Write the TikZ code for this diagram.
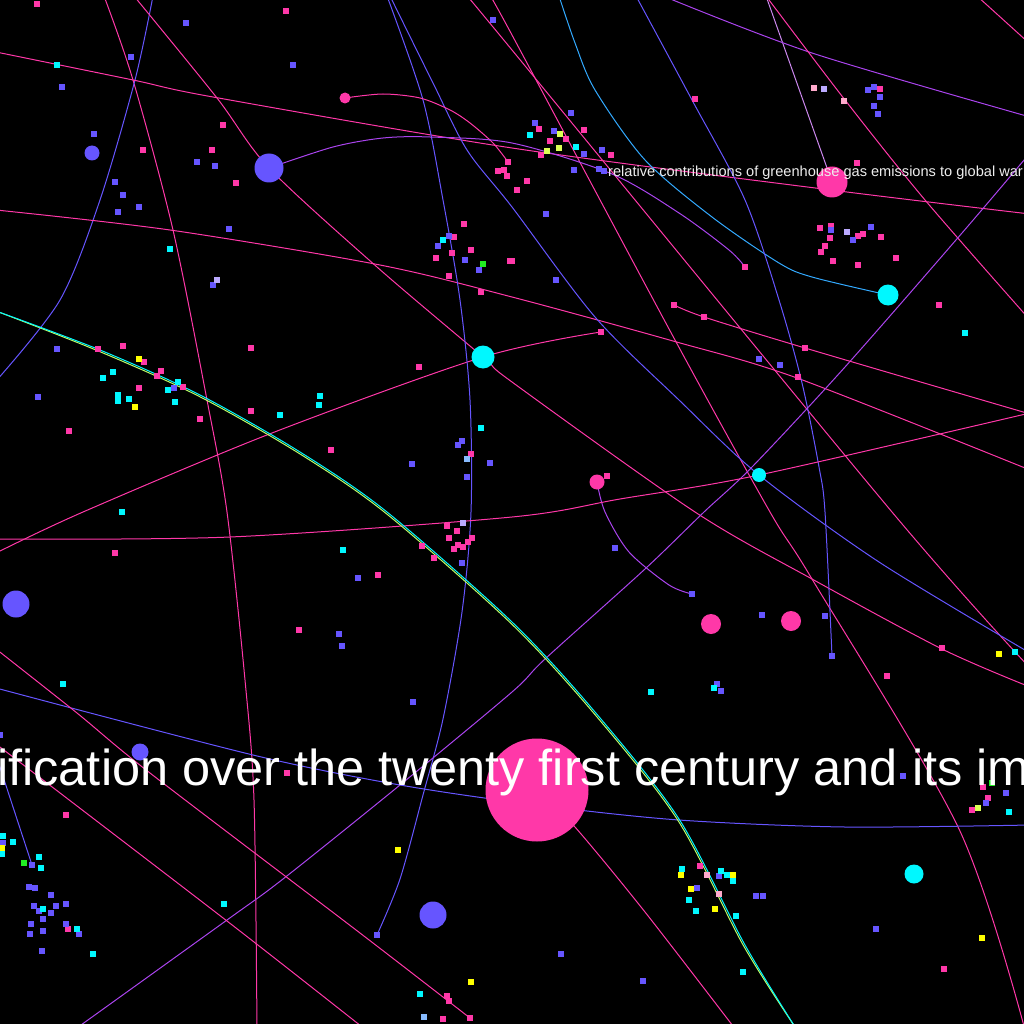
\documentclass[tikz,border=0pt]{standalone}
\usepackage{fontspec}
\setmainfont{Liberation Sans}
\definecolor{hotPink}{HTML}{FF38A8}
\definecolor{bluePurple}{HTML}{6655FF}
\definecolor{aqua}{HTML}{00F8FF}
\definecolor{lemon}{HTML}{FFFF00}
\definecolor{lime}{HTML}{22EE22}
\definecolor{violetLine}{HTML}{AA44EE}
\definecolor{lilacLine}{HTML}{CC88EE}
\definecolor{skyLine}{HTML}{33AAFF}
\definecolor{blush}{HTML}{FFAACC}
\definecolor{lavender}{HTML}{BBAAFF}
\definecolor{paleBlue}{HTML}{88BBFF}
\definecolor{limeYellow}{HTML}{DDFF55}
\definecolor{greenLine}{HTML}{BBFF66}
\definecolor{labelGrey}{HTML}{EEEEEE}
\pgfdeclarelayer{links}
\pgfsetlayers{links,main}
\tikzstyle{hubNode} = [circle, inner sep=0pt]
\tikzstyle{sqNode} = [rectangle, inner sep=0pt, minimum size=5.5pt]
\tikzstyle{pinkLink} = [draw=hotPink, line width=1pt]
\tikzstyle{blueLink} = [draw=bluePurple, line width=1pt]
\tikzstyle{violetLink} = [draw=violetLine, line width=1pt]
\tikzstyle{skyLink} = [draw=skyLine, line width=1pt]
\tikzstyle{lilacLink} = [draw=lilacLine, line width=1pt]
\tikzstyle{bigText} = [text=white, inner sep=0pt, font=\fontsize{50.5}{61}\selectfont]
\tikzstyle{smallText} = [text=labelGrey, inner sep=0pt, font=\fontsize{14.6}{17}\selectfont]

\begin{document}
\begin{tikzpicture}[x=1pt, y=-1pt]
    \useasboundingbox (0,0) rectangle (1024,1024);
    \begin{pgfonlayer}{links}
        \fill[black] (0,0) rectangle (1024,1024);
    \end{pgfonlayer}

    % hubs
    \node (blueDot) [hubNode, fill=bluePurple, minimum size=15pt] at (92,153) {};
    \node (blueHub) [hubNode, fill=bluePurple, minimum size=29pt] at (269,168) {};
    \node (pinkSmall) [hubNode, fill=hotPink, minimum size=11pt] at (345,98) {};
    \node (cyanHub) [hubNode, fill=aqua, minimum size=23pt] at (483,357) {};
    \node (pinkGas) [hubNode, fill=hotPink, minimum size=31pt] at (832,182) {};
    \node (cyanRight) [hubNode, fill=aqua, minimum size=21pt] at (888,295) {};
    \node (cyanMid) [hubNode, fill=aqua, minimum size=14pt] at (759,475) {};
    \node (pinkMid) [hubNode, fill=hotPink, minimum size=15pt] at (597,482) {};
    \node (blueLeft) [hubNode, fill=bluePurple, minimum size=27pt] at (16,604) {};
    \node (blueText) [hubNode, fill=bluePurple, minimum size=17pt] at (140,752) {};
    \node (blueLow) [hubNode, fill=bluePurple, minimum size=27pt] at (433,915) {};
    \node (pinkBig) [hubNode, fill=hotPink, minimum size=103pt] at (537,790) {};
    \node (pinkPairA) [hubNode, fill=hotPink, minimum size=20pt] at (711,624) {};
    \node (pinkPairB) [hubNode, fill=hotPink, minimum size=20pt] at (791,621) {};
    \node (cyanLow) [hubNode, fill=aqua, minimum size=19pt] at (914,874) {};

    % line ends
    \node (endPinkCurve) [sqNode, fill=hotPink] at (508,162) {};
    \node (endViolet) [sqNode, fill=hotPink] at (745,267) {};
    \node (endHubLine) [sqNode, fill=hotPink] at (601,332) {};
    \node (startPinkRay) [sqNode, fill=hotPink] at (674,305) {};
    \node (endPinkO) [sqNode, fill=hotPink] at (470,1018) {};
    \node (endBlueG) [sqNode, fill=bluePurple] at (377,935) {};
    \node (endBlueI) [sqNode, fill=bluePurple] at (832,656) {};
    \node (endVioletM) [sqNode, fill=bluePurple] at (692,594) {};
    \node (endBlueR) [sqNode, fill=bluePurple] at (32,865) {};

    % scattered squares
    \foreach \x/\y [count=\i] in {37/4,286/11,223/125,212/150,236/183,143/150,464/224,454/237,471/250,436/258,452/253,449/276,481/292,510/261,498/171,504/170,507/176,251/348,123/346,98/349,144/362,161/371,157/376,139/388,183/387,200/419,69/431,251/411,331/450,419/367,471/454,695/99,880/89,857/163,539/129,584/130,550/141,566/139,541/155,611/155,527/181,517/190,512/261,820/228,831/226,830/238,825/246,821/252,858/236,863/234,881/237,896/258,833/261,858/265,939/305,704/317,805/348,798/377,607/476,115/553,299/630,378/575,422/546,434/558,447/526,457/531,449/538,458/545,454/549,463/547,468/542,472/538,287/773,66/815,68/929,447/996,449/1001,443/1019,942/648,887/676,983/787,988/798,972/810,700/866,944/969}
        \node (pinkSq\i) [sqNode, fill=hotPink] at (\x,\y) {};
    \foreach \x/\y [count=\i] in {186/23,131/57,293/65,62/87,94/134,197/162,215/166,115/182,123/195,118/212,139/207,229/229,213/285,493/20,449/236,438/246,465/260,479/270,57/349,174/388,38/397,412/464,462/441,458/445,490/463,467/477,868/90,874/87,880/97,874/106,878/114,571/113,535/123,554/131,584/154,602/150,574/170,599/169,604/171,546/214,556/280,831/230,853/240,871/227,759/359,780/365,462/563,358/578,339/634,342/646,413/702,0/735,3/843,29/887,35/888,51/895,34/906,39/911,56/906,66/904,51/913,43/919,31/924,66/924,30/934,43/931,79/934,42/951,615/548,762/615,825/616,717/684,721/691,903/776,1006/793,986/803,697/888,719/876,756/896,763/896,876/929,561/954,643/981}
        \node (blueSq\i) [sqNode, fill=bluePurple] at (\x,\y) {};
    \foreach \x/\y [count=\i] in {57/65,170/249,443/240,113/372,103/378,178/382,168/390,118/395,118/401,129/399,175/402,320/396,319/405,280/415,481/428,122/512,530/135,576/147,965/333,343/550,63/684,3/836,13/842,2/854,39/857,41/868,43/909,77/929,93/954,224/904,420/994,1015/652,651/692,714/688,1009/812,682/869,721/871,727/875,733/881,689/900,696/911,736/916,743/972}
        \node (cyanSq\i) [sqNode, fill=aqua] at (\x,\y) {};
    \foreach \x/\y [count=\i] in {139/359,135/407,2/848,398/850,471/982,999/654,681/875,691/889,733/875,715/909,982/938}
        \node (yellowSq\i) [sqNode, fill=lemon] at (\x,\y) {};
    \foreach \x/\y [count=\i] in {560/134,559/148,547/151,978/808}
        \node (limeSq\i) [sqNode, fill=limeYellow] at (\x,\y) {};
    \foreach \x/\y [count=\i] in {483/264,24/863,992/783}
        \node (greenSq\i) [sqNode, fill=lime] at (\x,\y) {};
    \foreach \x/\y [count=\i] in {814/88,844/101,707/875,719/894}
        \node (blushSq\i) [sqNode, fill=blush] at (\x,\y) {};
    \foreach \x/\y [count=\i] in {217/280,824/89,847/232,463/523}
        \node (lavSq\i) [sqNode, fill=lavender] at (\x,\y) {};
    \foreach \x/\y [count=\i] in {467/459,424/1017}
        \node (paleSq\i) [sqNode, fill=paleBlue] at (\x,\y) {};

    % free ends
    \coordinate (aTop) at (104,-4);   \coordinate (aBot) at (257,1030);
    \coordinate (bTop) at (153,-4);   \coordinate (bLeft) at (-4,381);
    \coordinate (cLeft) at (-4,52);   \coordinate (cRight) at (1030,214);
    \coordinate (dLeft) at (-4,210);  \coordinate (dRight) at (1030,470);
    \coordinate (eTop) at (134,-4);   \coordinate (eRight) at (1030,687);
    \coordinate (fLeft) at (-4,553);
    \coordinate (gTop) at (467,-4);   \coordinate (gRight) at (1030,668);
    \coordinate (hTop) at (490,-4);   \coordinate (hBot) at (1025,1030);
    \coordinate (iTop) at (387,-4);
    \coordinate (jTop) at (390,-4);   \coordinate (jRight) at (1030,653);
    \coordinate (kTop) at (559,-4);
    \coordinate (lTop) at (636,-4);
    \coordinate (mTop) at (766,-4);
    \coordinate (nTop) at (663,-4);   \coordinate (nRight) at (1030,117);
    \coordinate (oTop) at (766,-4);   \coordinate (oRight) at (1030,320);
    \coordinate (pTop) at (977,-4);   \coordinate (pRight) at (1030,44);
    \coordinate (qRight) at (1030,153); \coordinate (qBot) at (74,1030);
    \coordinate (rLeft) at (-4,539);  \coordinate (rRight) at (1030,413);
    \coordinate (sRight) at (1030,414);
    \coordinate (tLeft) at (-4,688);  \coordinate (tRight) at (1030,825);
    \coordinate (uLeft) at (-4,755);
    \coordinate (vLeft) at (-4,649);
    \coordinate (wLeft) at (-4,744);  \coordinate (wBot) at (366,1030);
    \coordinate (xBot) at (736,1030);
    \coordinate (yLeft) at (-4,311);  \coordinate (yBot) at (797,1030);

    \begin{pgfonlayer}{links}
        \draw [pinkLink] plot[smooth] coordinates {(aTop) (133,80) (173,230) (207,400) (227,512) (245,680) (254,800) (aBot)};
        \draw [blueLink] plot[smooth] coordinates {(bTop) (135,80) (100,200) (60,300) (bLeft)};
        \draw [pinkLink] plot[smooth] coordinates {(cLeft) (133,80) (213,97) (512,148) (831,190) (cRight)};
        \draw [pinkLink] plot[smooth] coordinates {(dLeft) (170,230) (380,265) (512,297) (673,341) (797,378) (dRight)};
        \draw [pinkLink] plot[smooth] coordinates {(eTop) (217,98) (blueHub.center) (377,267) (cyanHub.center) (512,382) (695,512) (812,579) (942,649) (eRight)};
        \draw [pinkLink] plot[smooth] coordinates {(fLeft) (83,512) (272,433) (cyanHub.center) (endHubLine)};
        \draw [pinkLink] plot[smooth] coordinates {(gTop) (512,50) (892,512) (gRight)};
        \draw [pinkLink] plot[smooth] coordinates {(hTop) (512,35) (675,340) (770,512) (812,579) (959,829) (hBot)};
        \draw [blueLink] plot[smooth] coordinates {(iTop) (423,100) (443,200) (460,300) (470,400) (471,512) (462,612) (443,719) (423,795) (400,879) (endBlueG)};
        \draw [blueLink] plot[smooth] coordinates {(jTop) (433,83) (467,150) (512,207) (595,317) (679,400) (cyanMid.center) (879,562) (jRight)};
        \draw [skyLink] plot[smooth] coordinates {(kTop) (575,43) (595,90) (645,160) (712,217) (779,263) (812,277) (cyanRight.center)};
        \draw [blueLink] plot[smooth] coordinates {(lTop) (692,100) (745,200) (779,300) (802,383) (819,467) (825,512) (endBlueI)};
        \draw [lilacLink] (mTop) -- (pinkGas.center);
        \draw [violetLink] plot[smooth] coordinates {(nTop) (812,53) (nRight)};
        \draw [pinkLink] plot[smooth] coordinates {(oTop) (845,100) (925,200) (oRight)};
        \draw [pinkLink] (pTop) -- (pRight);
        \draw [violetLink] plot[smooth] coordinates {(qRight) (962,233) (845,367) (752,467) (704,512) (645,569) (545,659) (512,692) (400,785) (283,879) (227,920) (qBot)};
        \draw [violetLink] plot[smooth] coordinates {(pinkMid.center) (605,512) (629,552) (669,585) (endVioletM)};
        \draw [pinkLink] plot[smooth] coordinates {(rLeft) (230,537) (512,517) (620,499) (cyanMid.center) (rRight)};
        \draw [pinkLink] plot[smooth] coordinates {(startPinkRay) (704,317) (805,348) (sRight)};
        \draw [blueLink] plot[smooth] coordinates {(tLeft) (253,755) (400,785) (537,805) (679,820) (845,827) (tRight)};
        \draw [blueLink] (uLeft) -- (endBlueR);
        \draw [pinkLink] plot[smooth] coordinates {(vLeft) (77,713) (150,773) (360,933) (endPinkO)};
        \draw [pinkLink] plot[smooth] coordinates {(wLeft) (227,921) (wBot)};
        \draw [pinkLink] plot[smooth] coordinates {(pinkBig.center) (575,827) (645,912) (xBot)};
        \draw [draw=greenLine, line width=1pt, xshift=-1.2pt, yshift=-1.2pt] plot[smooth] coordinates {(yLeft) (100,350) (200,395) (300,452) (387,512) (512,622) (595,712) (679,819) (745,945) (yBot)};
        \draw [draw=aqua, line width=1pt] plot[smooth] coordinates {(yLeft) (100,350) (200,395) (300,452) (387,512) (512,622) (595,712) (679,819) (745,945) (yBot)};
        \draw [pinkLink] plot[smooth] coordinates {(pinkSmall.center) (383,94) (420,98) (450,110) (470,123) (493,143) (endPinkCurve)};
        \draw [violetLink] plot[smooth] coordinates {(blueHub.center) (333,147) (383,138) (430,137) (512,143) (612,174) (679,213) (729,250) (endViolet)};
    \end{pgfonlayer}

    % texts
    \node (gasLabel) [smallText, anchor=base west] at (608,177) {relative contributions of greenhouse gas emissions to global war};
    \node (headLine) [bigText, anchor=base west] at (-3,785) {ification over the twenty first century and its im};
\end{tikzpicture}
\end{document}
